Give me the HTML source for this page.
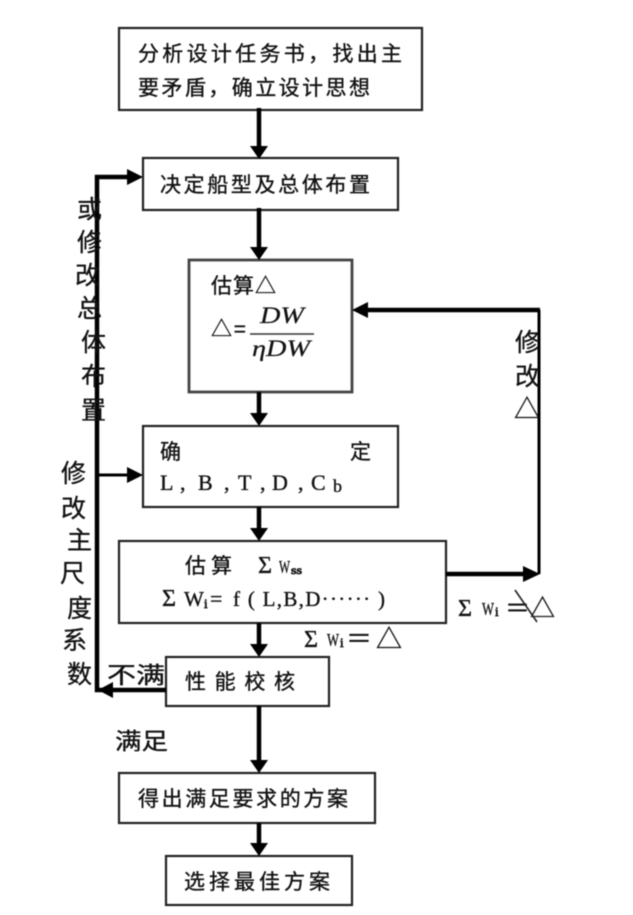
<!DOCTYPE html>
<html><head><meta charset="utf-8">
<style>
html,body{margin:0;padding:0;background:#fff;width:633px;height:915px;overflow:hidden}
svg{display:block;filter:blur(.5px)}
text{font-family:"Liberation Sans","Noto Sans CJK SC","WenQuanYi Zen Hei",sans-serif;font-size:21px;fill:#111;stroke:#111;stroke-width:.35px}
.s{font-family:"Liberation Serif","Noto Sans CJK SC",serif}
.i{font-family:"Liberation Serif",serif;font-style:italic;font-size:23px;stroke-width:.2px}
.v{font-size:25px;stroke-width:.3px}
rect{fill:#fff;stroke:#222;stroke-width:2.2}
.t{stroke:#000;stroke-width:4.5;fill:none}
.m{stroke:#000;stroke-width:3;fill:none}
polygon{fill:#000}
</style></head><body>
<svg width="633" height="915" viewBox="0 0 633 915" xmlns="http://www.w3.org/2000/svg">
<rect x="119" y="28" width="303" height="82"/>
<rect x="143" y="158" width="255" height="52"/>
<rect x="189" y="260" width="163" height="132" style="stroke:#444;stroke-width:2.8"/>
<rect x="143" y="426" width="255" height="81"/>
<rect x="119" y="541" width="327" height="82"/>
<rect x="166" y="657" width="163" height="49"/>
<rect x="119" y="773" width="256" height="50"/>
<rect x="166" y="856" width="186" height="49"/>

<path class="t" d="M259 108V150M259 208V250M259 392V416M259 507V531M259 623V647M259 706V763M259 823V846"/>
<polygon points="250,146 268,146 259,159"/>
<polygon points="250,247 268,247 259,260"/>
<polygon points="250,413 268,413 259,426"/>
<polygon points="250,528 268,528 259,541"/>
<polygon points="250,644 268,644 259,657"/>
<polygon points="250,760 268,760 259,773"/>
<polygon points="250,843 268,843 259,856"/>

<path class="t" d="M130 177H97V690H166" />
<polygon points="143,177 127,169 127,185"/>
<path class="m" d="M97 475H130"/>
<polygon points="143,475 127,467 127,483"/>
<polygon points="98,690 113,682 113,698"/>

<path class="t" d="M446 574H525"/>
<polygon points="540,574 523,566 523,582"/>
<path class="m" d="M539 574V310"/>
<path class="t" d="M540 310H365"/>
<polygon points="352,310 368,302 368,318"/>

<text x="138" y="61" textLength="264">分析设计任务书，找出主</text>
<text x="138" y="95" textLength="232">要矛盾，确立设计思想</text>
<text x="160" y="192" textLength="210">决定船型及总体布置</text>
<text x="211" y="293" textLength="65">估算△</text>
<text x="211" y="336" textLength="35">△=</text>
<text class="i" x="260" y="323" textLength="44" lengthAdjust="spacingAndGlyphs">DW</text>
<path d="M250 334H314" stroke="#333" stroke-width="1.5"/>
<text class="i" x="252" y="356" textLength="58" lengthAdjust="spacingAndGlyphs">ηDW</text>
<text x="160" y="459">确</text>
<text x="350" y="459">定</text>
<text class="s" x="160" y="490" style="font-size:22px">L</text>
<text class="s" x="180" y="490" style="font-size:22px">,</text>
<text class="s" x="198" y="490" style="font-size:22px">B</text>
<text class="s" x="224" y="490" style="font-size:22px">,</text>
<text class="s" x="238" y="490" style="font-size:22px">T</text>
<text class="s" x="260" y="490" style="font-size:22px">,</text>
<text class="s" x="272" y="490" style="font-size:22px">D</text>
<text class="s" x="298" y="490" style="font-size:22px">,</text>
<text class="s" x="311" y="490" style="font-size:22px">C</text>
<text class="s" x="333" y="492" style="font-size:18px">b</text>

<text x="185" y="573" textLength="47">估算</text>
<text class="s" x="258" y="573" style="font-size:24px">Σ</text>
<text class="s" x="279" y="573" textLength="11" lengthAdjust="spacingAndGlyphs" style="font-size:18px">W</text>
<text class="s" x="291" y="574" textLength="11" lengthAdjust="spacingAndGlyphs" style="font-size:12px;stroke-width:.8px">ss</text>

<text class="s" x="162" y="606" style="font-size:24px">Σ</text>
<text class="s" x="184" y="606" style="font-size:21px">W</text>
<text class="s" x="204" y="608" style="font-size:13px;stroke-width:.7px">i</text>
<text class="s" x="210" y="606" style="font-size:22px">=</text>
<text class="s" x="233" y="606" textLength="152" style="font-size:21px">f ( L,B,D······ )</text>

<text class="s" x="304" y="647" style="font-size:24px">Σ</text>
<text class="s" x="327" y="646" textLength="12" lengthAdjust="spacingAndGlyphs" style="font-size:18px">W</text>
<text class="s" x="340" y="647" style="font-size:13px;stroke-width:.7px">i</text>
<text x="346" y="648" textLength="56" style="font-size:26px">＝△</text>

<text class="s" x="458" y="616" style="font-size:24px">Σ</text>
<text class="s" x="482" y="615" textLength="12" lengthAdjust="spacingAndGlyphs" style="font-size:18px">W</text>
<text class="s" x="495" y="616" style="font-size:13px;stroke-width:.7px">i</text>
<text x="505" y="617" textLength="50" style="font-size:25px">＝△</text>
<path d="M515 590L537 622" stroke="#222" stroke-width="1.6"/>

<text x="185" y="689" textLength="110">性能校核</text>
<text x="107" y="683" textLength="58" lengthAdjust="spacingAndGlyphs" style="font-size:23px">不满</text>
<text x="115" y="749" textLength="53" lengthAdjust="spacingAndGlyphs" style="font-size:23px">满足</text>
<text x="138" y="806" textLength="210">得出满足要求的方案</text>
<text x="184" y="889" textLength="146">选择最佳方案</text>

<text class="v" x="77" y="218">或</text>
<text class="v" x="77" y="251">修</text>
<text class="v" x="75" y="284">改</text>
<text class="v" x="77" y="317">总</text>
<text class="v" x="81" y="351">体</text>
<text class="v" x="81" y="385">布</text>
<text class="v" x="81" y="419">置</text>
<text class="v" x="61" y="482">修</text>
<text class="v" x="61" y="517">改</text>
<text class="v" x="67" y="549">主</text>
<text class="v" x="60" y="582">尺</text>
<text class="v" x="67" y="617">度</text>
<text class="v" x="62" y="649">系</text>
<text class="v" x="67" y="683">数</text>
<text class="v" x="515" y="351">修</text>
<text class="v" x="515" y="385">改</text>
<text class="v" x="514" y="418" style="font-size:26px">△</text>
</svg>
</body></html>
